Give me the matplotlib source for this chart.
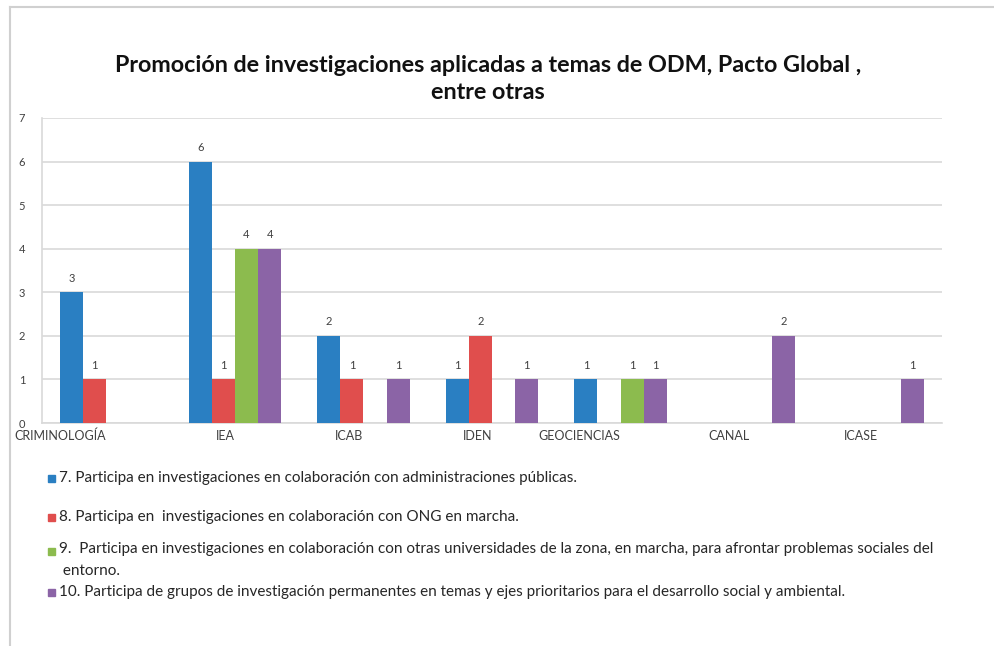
import matplotlib.pyplot as plt
import numpy as np
from matplotlib.patches import Rectangle

categories = ["CRIMINOLOGÍA", "IEA", "ICAB", "IDEN", "GEOCIENCIAS", "CANAL", "ICASE"]
serie7 = [3, 6, 2, 1, 1, 0, 0]
serie8 = [1, 1, 1, 2, 0, 0, 0]
serie9 = [0, 4, 0, 0, 1, 0, 0]
serie10 = [0, 4, 1, 1, 1, 2, 1]
labels = [
    "7. Participa en investigaciones en colaboración con administraciones públicas.",
    "8. Participa en  investigaciones en colaboración con ONG en marcha.",
    "9.  Participa en investigaciones en colaboración con otras universidades de la zona, en marcha, para afrontar problemas sociales del\n entorno.",
    "10. Participa de grupos de investigación permanentes en temas y ejes prioritarios para el desarrollo social y ambiental.",
]
colors = ["#2A7FC2", "#E04E4D", "#8CBB4E", "#8B64A6"]

plt.rcParams['font.family'] = ['Lato', 'DejaVu Sans']

fig = plt.figure(figsize=(9.95, 6.46), dpi=100)
ax = fig.add_axes([42/995, 1-423/646, 900/995, 305/646])

series = [serie7, serie8, serie9, serie10]
x = np.arange(len(categories))
w = 0.18
for i, vals in enumerate(series):
    pos = x + (i - 1.5) * w
    bars = ax.bar(pos, vals, width=w, color=colors[i], zorder=3)
    for b, v in zip(bars, vals):
        if v > 0:
            ax.text(b.get_x() + b.get_width()/2, v + 0.2, str(v), ha='center', va='bottom',
                    fontsize=8, color='#404040')

ax.set_xlim(-0.5, len(categories) - 0.5)
ax.set_ylim(0, 7)
ax.set_yticks(range(0, 8))
ax.yaxis.grid(True, color='#D9D9D9', linewidth=1.2, zorder=0)
ax.set_xticks(x)
ax.set_xticklabels(categories, ha='right', fontsize=9, color='#404040')
ax.tick_params(axis='x', length=0, pad=5)
ax.tick_params(axis='y', length=0, labelsize=8, labelcolor='#404040', pad=12)
for s in ['top', 'right']:
    ax.spines[s].set_visible(False)
ax.spines['left'].set_color('#D9D9D9')
ax.spines['bottom'].set_color('#D9D9D9')
ax.spines['left'].set_linewidth(1.2)
ax.spines['bottom'].set_linewidth(1.2)

fig.text(488/995, 1-79/646, "Promoción de investigaciones aplicadas a temas de ODM, Pacto Global ,\nentre otras",
         ha='center', va='center', fontsize=16.8, fontweight='bold', color='#111111', linespacing=1.4)

# legend
ys = [478, 517, 551, 592]
for lab, c, yy in zip(labels, colors, ys):
    fig.patches.append(Rectangle((48/995, 1-(yy+3.5)/646), 7/995, 7/646, transform=fig.transFigure,
                                 color=c, figure=fig))
    if '\n' in lab:
        fig.text(59/995, 1-(yy-9)/646, lab, ha='left', va='top', fontsize=11, color='#262626',
                 linespacing=1.75)
    else:
        fig.text(59/995, 1-yy/646, lab, ha='left', va='center', fontsize=11, color='#262626')

# frame lines
fig.add_artist(plt.Line2D([10/995, 10/995], [0, 1-7/646], transform=fig.transFigure, color='#D0D0D0', lw=1.5))
fig.add_artist(plt.Line2D([10/995, 1], [1-7/646, 1-7/646], transform=fig.transFigure, color='#D0D0D0', lw=1.5))

fig.savefig("out.png", dpi=100)
